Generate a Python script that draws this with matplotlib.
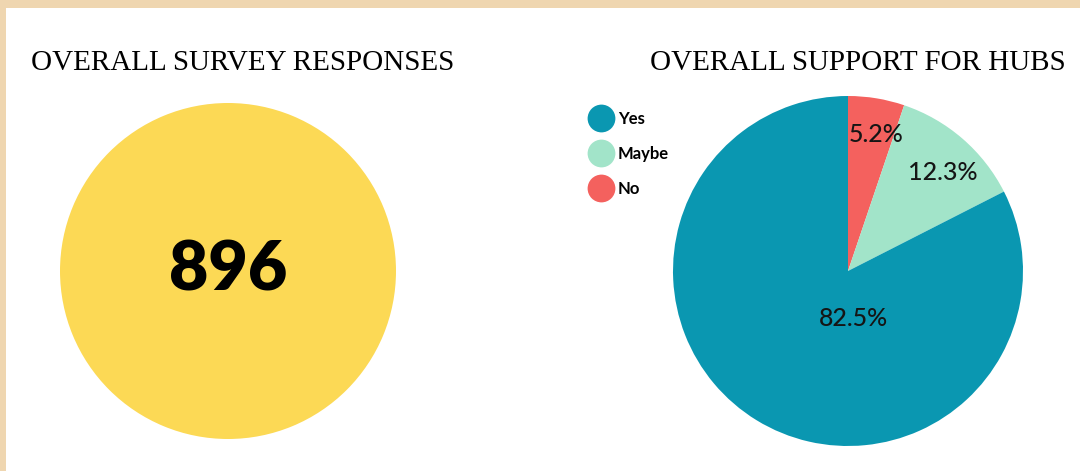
import matplotlib.pyplot as plt
from matplotlib.lines import Line2D

# datos
total_responses = 896
support_labels = ['No', 'Maybe', 'Yes']
support_values = [5.2, 12.3, 82.5]
support_colors = ['#f4615e', '#a2e4c9', '#0a97b1']
legend_order = ['Yes', 'Maybe', 'No']
left_title = 'OVERALL SURVEY RESPONSES'
right_title = 'OVERALL SUPPORT FOR HUBS'

W, H = 1080, 471
fig = plt.figure(figsize=(W / 100, H / 100), dpi=100)
fig.patch.set_facecolor('#efd6b0')

# panel blanco
panel = fig.add_axes([6 / W, 0, 1 - 6 / W, 1 - 8 / H])
panel.set_facecolor('white')
panel.set_xticks([])
panel.set_yticks([])
for s in panel.spines.values():
    s.set_visible(False)

def px_axes(cx, cy, r):
    return fig.add_axes([(cx - r) / W, (H - cy - r) / H, 2 * r / W, 2 * r / H])

# circulo de respuestas totales
ax1 = px_axes(228, 271, 168)
ax1.pie([total_responses], colors=['#fcd955'], radius=1)
ax1.set_xlim(-1, 1)
ax1.set_ylim(-1, 1)
ax1.text(0, 0, str(total_responses), ha='center', va='center',
         fontsize=49, fontweight='heavy', family='Lato')

# pastel de apoyo
ax2 = px_axes(848, 271, 175)
ax2.pie(support_values, colors=support_colors, startangle=90,
        counterclock=False, radius=1)
ax2.set_xlim(-1, 1)
ax2.set_ylim(-1, 1)

# posiciones de las etiquetas (unidades del radio)
label_pos = [(0.16, 0.78), (0.54, 0.56), (0.03, -0.27)]
for v, (lx, ly) in zip(support_values, label_pos):
    ax2.text(lx, ly, f'{v}%', ha='center', va='center', fontsize=18,
             family='Lato', fontweight='medium', color='#151515')

# leyenda
col = dict(zip(support_labels, support_colors))
handles = [Line2D([], [], marker='o', linestyle='none', markersize=20,
                  markerfacecolor=col[k], markeredgecolor='none')
           for k in legend_order]
fig.legend(handles, legend_order, loc='upper left',
           bbox_to_anchor=(576 / W, 1 - 96 / H), frameon=False,
           handletextpad=0.4, labelspacing=1.15, handlelength=1.2,
           prop={'family': 'Lato', 'weight': 'bold', 'size': 12})

# titulos
fig.text(243 / W, 1 - 63 / H, left_title, ha='center', va='center',
         fontsize=21, family='Liberation Serif')
fig.text(858 / W, 1 - 63 / H, right_title, ha='center', va='center',
         fontsize=21, family='Liberation Serif')

fig.savefig('out.png', dpi=100, facecolor=fig.get_facecolor())
